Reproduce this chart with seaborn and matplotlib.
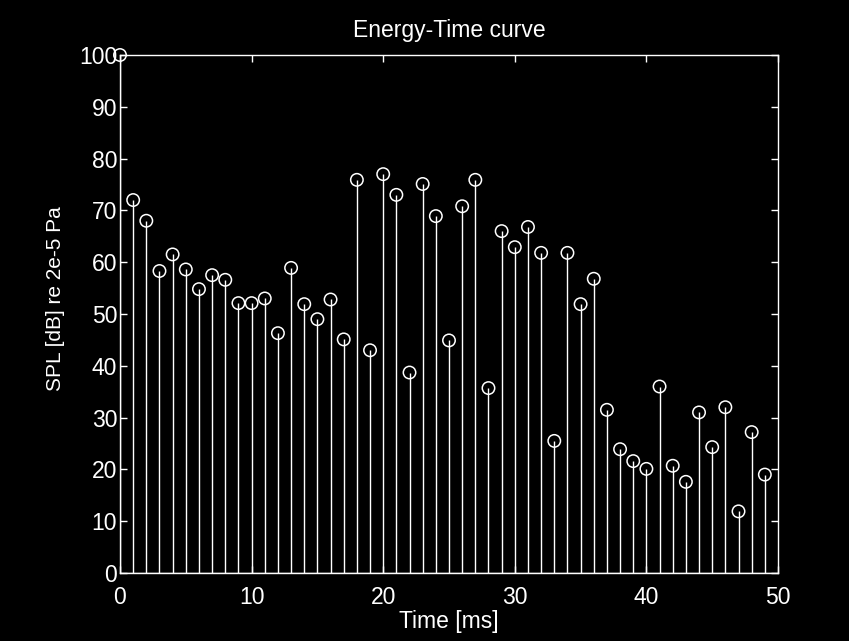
import numpy as np
import pandas as pd
import matplotlib
matplotlib.use("Agg")
import matplotlib.pyplot as plt
import seaborn as sns

time_ms = list(range(50))
spl_db = [100, 72.0, 68.0, 58.3, 61.5, 58.6, 54.8, 57.5, 56.6, 52.1,
          52.1, 53.0, 46.3, 58.9, 51.9, 49.0, 52.8, 45.1, 75.9, 43.0,
          77.0, 73.0, 38.7, 75.1, 68.9, 44.9, 70.8, 75.9, 35.7, 66.0,
          62.9, 66.8, 61.8, 25.5, 61.8, 51.9, 56.8, 31.5, 23.9, 21.6,
          20.1, 36.0, 20.7, 17.6, 31.0, 24.3, 32.0, 11.9, 27.2, 19.0]
x_ticks = [0, 10, 20, 30, 40, 50]
y_ticks = [0, 10, 20, 30, 40, 50, 60, 70, 80, 90, 100]

sns.set_style("dark", {"axes.facecolor": "black", "figure.facecolor": "black",
                       "axes.edgecolor": "white", "text.color": "white",
                       "xtick.color": "white", "ytick.color": "white",
                       "axes.labelcolor": "white", "axes.grid": False})
plt.rcParams['font.family'] = ['Liberation Sans', 'DejaVu Sans']

df = pd.DataFrame({"t": time_ms, "spl": spl_db})

fig = plt.figure(figsize=(8.49, 6.41), dpi=100, facecolor="black")
ax = fig.add_axes([120/849, 1-573/641, (778-120)/849, (573-55)/641])
ax.set_facecolor("black")

ax.vlines(df["t"], 0, df["spl"], colors="white", linewidth=1.0)
ax.axhline(0, color="white", linewidth=1.0)
sns.scatterplot(data=df, x="t", y="spl", ax=ax, marker="o", s=80,
                facecolor="none", edgecolor="white", linewidth=1.1,
                clip_on=False, zorder=5, legend=False)

ax.set_xlim(0, 50)
ax.set_ylim(0, 100)
ax.set_xticks(x_ticks)
ax.set_yticks(y_ticks)
ax.tick_params(direction="in", length=5, width=1, colors="white",
               labelsize=16.5, top=True, right=True, bottom=True, left=True)
ax.tick_params(axis="x", pad=9)
ax.tick_params(axis="y", pad=2)
for sp in ax.spines.values():
    sp.set_visible(True)
    sp.set_color("white")
    sp.set_linewidth(1.0)

ax.set_title("Energy-Time curve", color="white", fontsize=16.5, pad=13)
ax.set_xlabel("Time [ms]", color="white", fontsize=16.5, labelpad=1)
ax.set_ylabel("SPL [dB] re 2e-5 Pa", color="white", fontsize=15)
ax.yaxis.set_label_coords((65 - 120) / 658, (573 - 299) / 518)

fig.savefig("out.png", dpi=100, facecolor="black")
